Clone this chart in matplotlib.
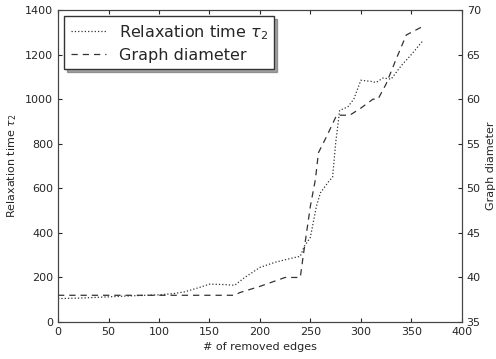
import matplotlib
matplotlib.use("Agg")
import matplotlib.pyplot as plt

# Relaxation time (left axis)
relax_x = [0, 25, 50, 75, 100, 115, 125, 140, 150, 165, 175, 185, 200, 215, 230, 240,
           244, 250, 256, 260, 268, 272, 275, 279, 287, 293, 300, 310, 315, 322, 330,
           340, 350, 362]
relax_y = [105, 108, 113, 118, 122, 128, 135, 155, 170, 168, 165, 200, 245, 268, 285, 295,
           340, 380, 520, 580, 630, 650, 800, 950, 965, 1000, 1085, 1080, 1075, 1095, 1090,
           1150, 1200, 1265]

# Graph diameter (right axis)
diam_x = [0, 175, 180, 200, 225, 240, 243, 250, 255, 258, 266, 276, 289, 300, 312, 317,
          325, 335, 345, 362]
diam_y = [38, 38, 38.3, 39, 40, 40, 42.5, 48, 51, 54, 55.8, 58.2, 58.2, 59, 60, 60,
          61.7, 64.5, 67.2, 68.2]

txt = "#262626"
plt.rcParams["font.family"] = "DejaVu Sans"
plt.rcParams["font.size"] = 8

fig = plt.figure(figsize=(4.96, 3.59), dpi=100)
ax = fig.add_axes([0.117, 0.103, 0.814, 0.869])
ax2 = ax.twinx()

l1, = ax.plot(relax_x, relax_y, ":", color="#333333", lw=0.9)
l2, = ax2.plot(diam_x, diam_y, "--", color="#333333", lw=0.9, dashes=(5, 4))

ax.set_xlim(0, 400)
ax.set_ylim(0, 1400)
ax2.set_ylim(35, 70)
ax.set_xticks(range(0, 401, 50))
ax.set_yticks(range(0, 1401, 200))
ax2.set_yticks(range(35, 71, 5))

for a in (ax, ax2):
    for s in a.spines.values():
        s.set_color("#444444")
    a.tick_params(direction="in", length=3, colors=txt, labelsize=8)
ax.tick_params(axis="x", top=True)
ax2.tick_params(axis="y", right=True)

ax.set_xlabel("# of removed edges", color=txt, fontsize=8)
ax.set_ylabel(r"Relaxation time $\tau_2$", color=txt, fontsize=8)
ax2.set_ylabel("Graph diameter", color=txt, fontsize=8)

leg = ax.legend([l1, l2], [r"Relaxation time $\tau_2$", "Graph diameter"],
                loc="upper left", fontsize=11.5, fancybox=False, shadow=True,
                framealpha=1, edgecolor="#333333", handlelength=2.2,
                borderaxespad=0.4, labelspacing=0.4)
for t in leg.get_texts():
    t.set_color(txt)

fig.savefig("out.png", dpi=100)
